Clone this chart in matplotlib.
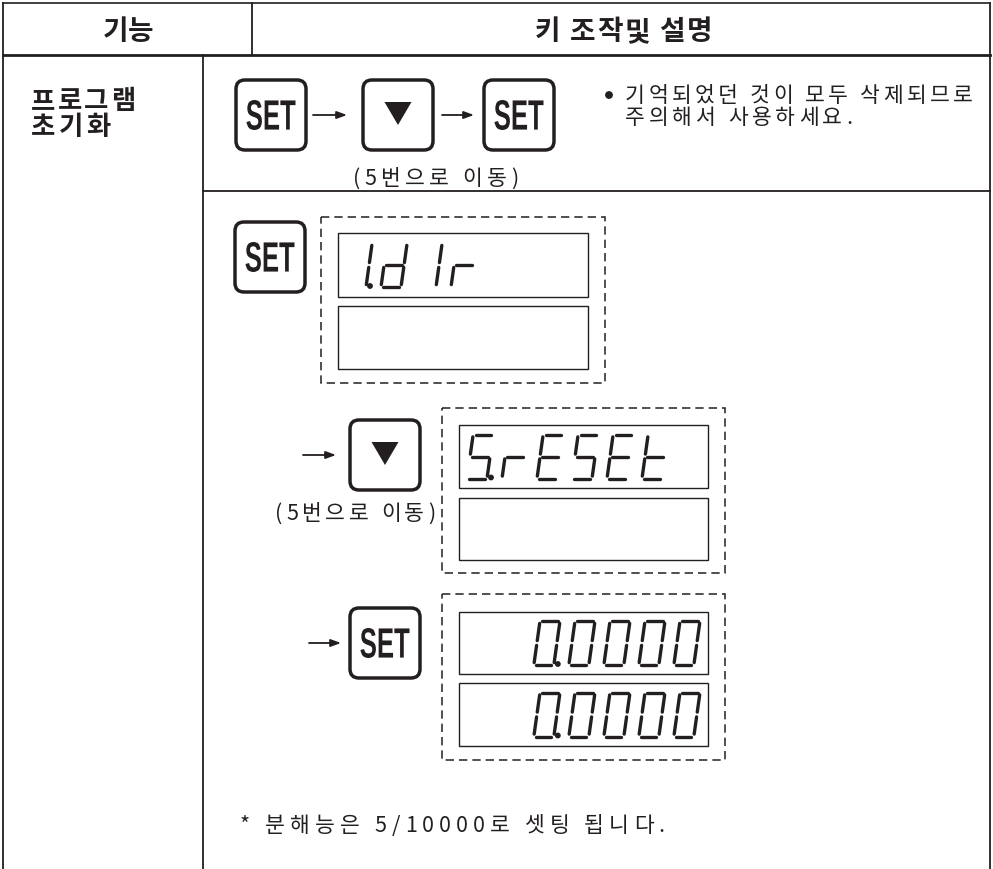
import matplotlib
matplotlib.use("Agg")
import matplotlib.pyplot as plt
from matplotlib.patches import FancyBboxPatch, Rectangle, Polygon, PathPatch, Circle
from matplotlib.textpath import TextPath
from matplotlib.font_manager import FontProperties
from matplotlib.transforms import Affine2D

# 텍스트 / 표시 내용
HEADER = ["기능", "키 조작및 설명"]
FUNC_LABEL = ["프로그램", "초기화"]
NOTE_LINES = ["기억되었던 것이 모두 삭제되므로", "주의해서 사용하세요."]
MOVE_HINT = "(5번으로 이동)"
SEQ_KEYS = ["SET", "DOWN", "SET"]
STEP_KEYS = ["SET", "DOWN", "SET"]
STEP_DISPLAYS = [("1.dIr", ""), ("S.rESEt", ""), ("0.0000", "0.0000")]
STEP_ALIGN = ["left", "left", "right"]
FOOTNOTE = "* 분해능은 5/10000로 셋팅 됩니다."

W, H = 993, 869
INK = "#231f20"
KR = ["Noto Sans CJK KR", "DejaVu Sans"]
plt.rcParams["lines.scale_dashes"] = False

fig = plt.figure(figsize=(W / 100, H / 100), dpi=100)
ax = fig.add_axes([0, 0, 1, 1])
ax.set_xlim(0, W)
ax.set_ylim(H, 0)
ax.axis("off")
renderer = fig.canvas.get_renderer()


# 글자를 하나씩 배치해서 x0 ~ x1 사이에 자간을 맞춘다
def spaced(x0, x1, y, s, size, weight="light"):
    fp = FontProperties(family=KR, size=size, weight=weight)
    widths = [renderer.get_text_width_height_descent(c, fp, ismath=False)[0] for c in s]
    track = (x1 - x0 - sum(widths)) / max(len(s) - 1, 1)
    x = x0
    for c, w in zip(s, widths):
        ax.text(x, y, c, fontproperties=fp, color=INK, va="baseline", ha="left")
        x += w + track


def path_text(s, cx, cy, w, h):
    fp = FontProperties(family=["Liberation Sans", "DejaVu Sans"], weight="bold")
    tp = TextPath((0, 0), s, size=100, prop=fp)
    ext = tp.get_extents()
    tr = (Affine2D().translate(-ext.x0 - ext.width / 2, -ext.y0 - ext.height / 2)
          .scale(w / ext.width, -h / ext.height).translate(cx, cy))
    ax.add_patch(PathPatch(tr.transform_path(tp), fc=INK, ec="none"))


def key(x, y, kind, size=70):
    ax.add_patch(FancyBboxPatch((x, y), size, size, boxstyle="round,pad=0,rounding_size=9",
                                lw=2.5, ec=INK, fc="white"))
    cx, cy = x + size / 2, y + size / 2
    if kind == "SET":
        path_text("SET", cx, cy, 49, 30)
    else:
        ax.add_patch(Polygon([(cx - 13.5, cy - 13), (cx + 13.5, cy - 13), (cx, cy + 10)],
                             closed=True, fc=INK, ec="none"))


def arrow(x0, x1, y):
    ax.annotate("", xy=(x1, y), xytext=(x0, y),
                arrowprops=dict(arrowstyle="-|>,head_length=0.6,head_width=0.22",
                                lw=1.3, color=INK, shrinkA=0, shrinkB=0))


# 7-세그먼트
SEG = {"0": "abcdef", "1": "bc", "I": "bc", "d": "bcdeg", "r": "eg",
       "S": "acdfg", "E": "adefg", "t": "defg"}
DIG_W, DIG_H, SLANT, STEP = 20, 44, 0.14, 35


def seg_digit(x0, yb, ch, dot):
    w, h, g = DIG_W, DIG_H, 2.4
    m = h / 2
    pts = {"a": ((g, h), (w - g, h)), "b": ((w, h - g), (w, m + g)),
           "c": ((w, m - g), (w, g)), "d": ((g, 0), (w - g, 0)),
           "e": ((0, g), (0, m - g)), "f": ((0, m + g), (0, h - g)),
           "g": ((g, m), (w - g, m))}
    for s in SEG[ch]:
        (x1, y1), (x2, y2) = pts[s]
        ax.plot([x0 + x1 + SLANT * y1, x0 + x2 + SLANT * y2], [yb - y1, yb - y2],
                color=INK, lw=2.4, solid_capstyle="round")
    if dot:
        ax.add_patch(Circle((x0 + w + 4, yb - 1), 2.2, color=INK))


def cells_of(text):
    cells = []
    for c in text:
        if c == "." and cells:
            cells[-1] = (cells[-1][0], True)
        else:
            cells.append((c, False))
    return cells


def display(x, y, w, h, text, align):
    ax.add_patch(Rectangle((x, y), w, h, fill=False, lw=1.0, ec=INK))
    cells = cells_of(text)
    if not cells:
        return
    yb = y + h / 2 + DIG_H / 2
    if align == "left":
        x0 = x + 8
    else:
        x0 = x + w - 8 - (DIG_W + SLANT * DIG_H) - STEP * (len(cells) - 1)
    for i, (ch, dot) in enumerate(cells):
        seg_digit(x0 + i * STEP, yb, ch, dot)


def dashed_box(x, y, w, h):
    ax.add_patch(Rectangle((x, y), w, h, fill=False, lw=1.1, ec=INK, ls=(0, (6, 3.6))))


# 표 테두리
ax.plot([3, 990], [3, 3], color=INK, lw=1.2)
ax.plot([3, 990], [55, 55], color=INK, lw=2.0)
ax.plot([3, 3], [3, H], color=INK, lw=1.3)
ax.plot([990, 990], [3, H], color=INK, lw=1.3)
ax.plot([252, 252], [3, 55], color=INK, lw=1.3)
ax.plot([203, 203], [55, H], color=INK, lw=1.3)
ax.plot([203, 990], [191, 191], color=INK, lw=1.3)

# 머리글
spaced(103, 153, 40, HEADER[0], 20, "bold")
spaced(535, 712, 40, HEADER[1], 20, "bold")

# 기능 이름
spaced(31, 135, 109, FUNC_LABEL[0], 19, "bold")
spaced(31, 110, 135, FUNC_LABEL[1], 19, "bold")

# 1행: 키 조작 순서
for kx, kind in zip([236, 363, 484], SEQ_KEYS):
    key(kx, 80, kind)
arrow(313, 347, 115)
arrow(442, 474, 115)
spaced(353, 518, 185, MOVE_HINT, 15.5)
ax.add_patch(Circle((609, 95), 3.2, color=INK))
spaced(625, 973, 102, NOTE_LINES[0], 15.5)
spaced(625, 852, 124, NOTE_LINES[1], 15.5)

# 2행: 단계별 표시
key(235, 222, STEP_KEYS[0])
dashed_box(321, 217, 284, 166)
display(338, 233, 250, 64, STEP_DISPLAYS[0][0], STEP_ALIGN[0])
display(338, 306, 250, 63, STEP_DISPLAYS[0][1], STEP_ALIGN[0])

arrow(303, 336, 455)
key(350, 420, STEP_KEYS[1])
spaced(275, 435, 520, MOVE_HINT, 15.5)
dashed_box(442, 408, 283, 165)
display(459, 425, 249, 63, STEP_DISPLAYS[1][0], STEP_ALIGN[1])
display(459, 498, 249, 62, STEP_DISPLAYS[1][1], STEP_ALIGN[1])

arrow(309, 341, 643)
key(350, 608, STEP_KEYS[2])
dashed_box(442, 594, 283, 166)
display(459, 612, 249, 62, STEP_DISPLAYS[2][0], STEP_ALIGN[2])
display(459, 683, 249, 63, STEP_DISPLAYS[2][1], STEP_ALIGN[2])

spaced(240, 665, 832, FOOTNOTE, 15.5)

fig.savefig("out.png", dpi=100, facecolor="white")
